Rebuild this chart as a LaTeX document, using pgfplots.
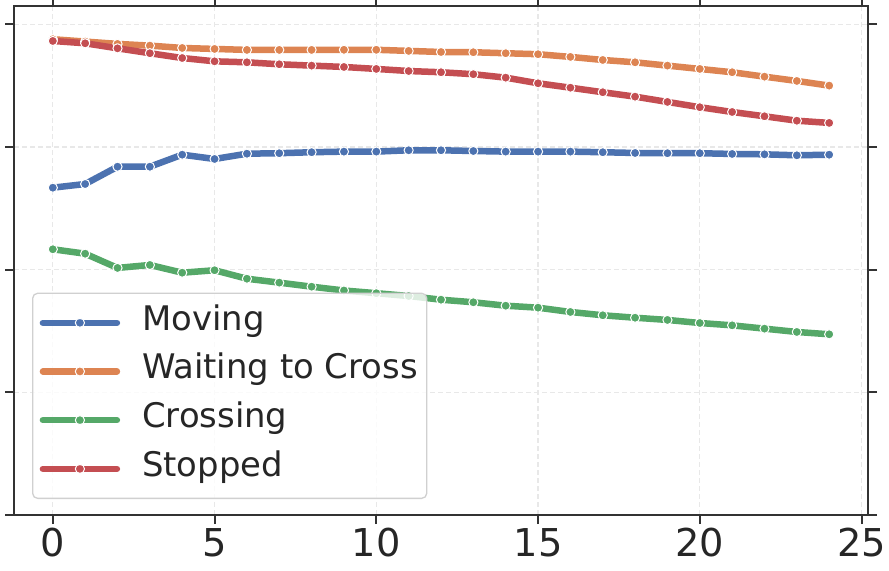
\documentclass[border=0pt]{standalone}
\usepackage{fontspec}
\setmainfont{DejaVu Sans}
\usepackage{pgfplots}
\usepackage{pgfplotstable}
\pgfplotsset{compat=1.18}
\usetikzlibrary{calc}
\definecolor{cblue}{HTML}{4C72B0}
\definecolor{corange}{HTML}{DD8452}
\definecolor{cgreen}{HTML}{55A868}
\definecolor{cred}{HTML}{C44E52}
\definecolor{spine}{HTML}{333333}
\definecolor{txt}{HTML}{262626}
\definecolor{gridc}{HTML}{E8E8E8}
\definecolor{legc}{HTML}{D0D0D0}

\pgfplotstableread{
x moving waiting crossing stopped
0  2.668 3.878 2.166 3.864
1  2.698 3.859 2.130 3.845
2  2.839 3.840 2.014 3.804
3  2.839 3.826 2.038 3.764
4  2.937 3.807 1.975 3.725
5  2.902 3.799 1.995 3.698
6  2.945 3.791 1.926 3.690
7  2.949 3.791 1.894 3.674
8  2.957 3.791 1.861 3.663
9  2.962 3.792 1.830 3.652
10 2.962 3.792 1.808 3.636
11 2.973 3.783 1.785 3.619
12 2.973 3.774 1.755 3.609
13 2.967 3.772 1.734 3.593
14 2.962 3.764 1.706 3.565
15 2.962 3.756 1.690 3.519
16 2.962 3.734 1.655 3.483
17 2.957 3.709 1.628 3.446
18 2.951 3.690 1.608 3.410
19 2.949 3.663 1.590 3.367
20 2.949 3.636 1.565 3.324
21 2.943 3.609 1.546 3.285
22 2.940 3.573 1.519 3.250
23 2.932 3.538 1.492 3.214
24 2.937 3.500 1.473 3.196
}\datatable

\begin{document}
\begin{tikzpicture}
\begin{axis}[
  name=ax,
  scale only axis,
  width=854bp, height=509bp,
  xmin=-1.2, xmax=25.2,
  ymin=0, ymax=4.149,
  xtick={0,5,10,15,20,25},
  ytick={0,1,2,3,4},
  yticklabels={},
  tick align=outside,
  major tick length=9bp,
  tick style={line width=2bp, color=spine},
  axis line style={line width=2bp, color=spine},
  every tick label/.append style={font=\fontsize{38.5}{40}\selectfont, text=txt},
  /pgf/number format/assume math mode=true,
  xticklabel style={yshift=-1bp},
  grid=major,
  major grid style={dashed, dash pattern=on 5bp off 3bp, color=gridc, line width=1.3bp},
  clip=false,
  legend cell align=left,
  legend style={
    at={(0.0211,0.0314)}, anchor=south west,
    draw=legc, line width=1.3bp, rounded corners=5bp,
    fill=white, fill opacity=0.8, text opacity=1,
    font=\fontsize{34}{36}\selectfont, text=txt,
    inner xsep=7bp, inner ysep=9bp,
    row sep=7.7bp,
    nodes={inner sep=2bp, text height=26bp, text depth=11bp},
    /tikz/every odd column/.append style={column sep=20bp},
  },
  legend image code/.code={
    \draw[mark repeat=2,mark phase=2,#1] plot coordinates {(0bp,0bp) (37bp,0bp) (74bp,0bp)};
  },
  every axis plot/.append style={line width=6.5bp, line cap=round, line join=round,
    mark=*, mark size=4.6bp},
]
\addplot[cblue, mark options={fill=cblue, draw=white, line width=1bp}] table[x=x, y=moving] {\datatable};
\addlegendentry{Moving}
\addplot[corange, mark options={fill=corange, draw=white, line width=1bp}] table[x=x, y=waiting] {\datatable};
\addlegendentry{Waiting to Cross}
\addplot[cgreen, mark options={fill=cgreen, draw=white, line width=1bp}] table[x=x, y=crossing] {\datatable};
\addlegendentry{Crossing}
\addplot[cred, mark options={fill=cred, draw=white, line width=1bp}] table[x=x, y=stopped] {\datatable};
\addlegendentry{Stopped}
\end{axis}
\pgfresetboundingbox
\path[use as bounding box] ($(ax.south west)+(-14bp,-56bp)$) rectangle ($(ax.north east)+(21bp,6bp)$);
\end{tikzpicture}
\end{document}
